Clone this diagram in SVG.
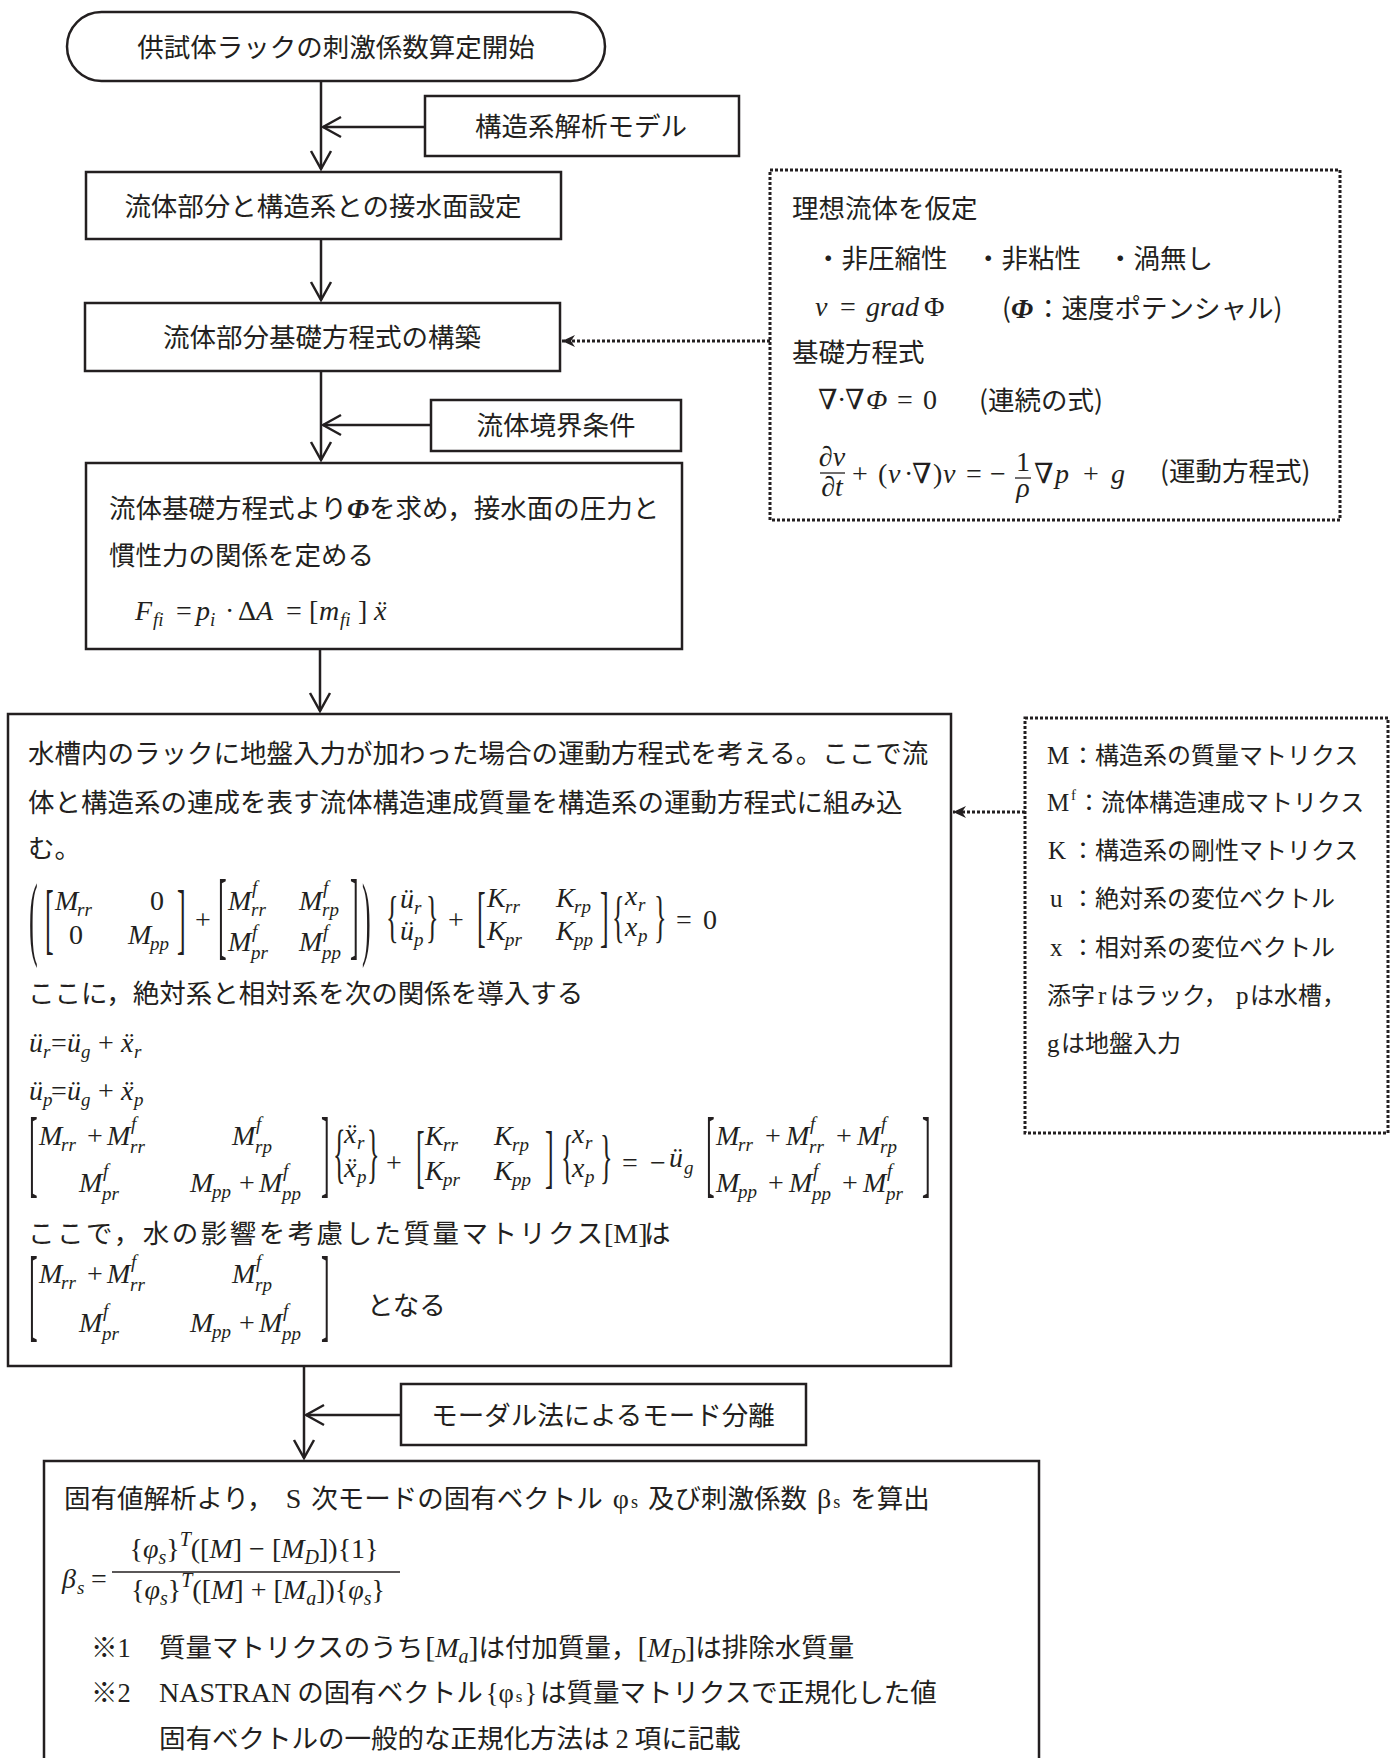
<svg xmlns="http://www.w3.org/2000/svg" width="1396" height="1758" viewBox="0 0 1396 1758">
<defs>
<style>
.jp{font-family:"Noto Sans CJK JP",sans-serif;font-size:26.5px;fill:#231f20}
.j24{font-size:24px}
.m{font-family:"Liberation Serif","DejaVu Serif",serif;font-style:italic;font-size:28px;fill:#231f20}
.mu{font-family:"Liberation Serif","DejaVu Serif",serif;font-style:normal;font-size:28px;fill:#231f20}
.s{font-family:"Liberation Serif","DejaVu Serif",serif;font-style:italic;font-size:19px;fill:#231f20}
.i{font-family:"Liberation Serif","DejaVu Serif",serif;font-style:italic}
.up{font-family:"Liberation Serif","DejaVu Serif",serif;font-style:normal}
.sb{font-family:"Liberation Serif","DejaVu Serif",serif;font-style:italic;font-size:20px}
.d{font-family:"Liberation Serif",serif;font-size:26px;fill:#231f20}
.box{fill:#fff;stroke:#231f20;stroke-width:2.5}
.dotbox{fill:none;stroke:#231f20;stroke-width:3;stroke-dasharray:3 2}
.conn{stroke:#231f20;stroke-width:2.5;fill:none}
.dconn{stroke:#231f20;stroke-width:3;stroke-dasharray:3 2;fill:none}
.bar{stroke:#231f20;stroke-width:1.3}
</style>
<marker id="chev" markerUnits="userSpaceOnUse" viewBox="-22 -12 24 24" markerWidth="24" markerHeight="24" refX="0" refY="0" orient="auto">
<path d="M-18,-10 L0,0 L-18,10" fill="none" stroke="#231f20" stroke-width="2.5"/>
</marker>
<marker id="tri" markerUnits="userSpaceOnUse" viewBox="-14 -7 15 14" markerWidth="15" markerHeight="14" refX="0" refY="0" orient="auto">
<path d="M0,0 L-13,-6 L-9,0 L-13,6 Z" fill="#231f20"/>
</marker>
</defs>
<rect width="1396" height="1758" fill="#fff"/>

<g id="connectors">
<path class="conn" d="M321,81 V169" marker-end="url(#chev)"/>
<path class="conn" d="M425,127 H323" marker-end="url(#chev)"/>
<path class="conn" d="M321,239 V300" marker-end="url(#chev)"/>
<path class="conn" d="M321,371 V460" marker-end="url(#chev)"/>
<path class="conn" d="M431,425 H323" marker-end="url(#chev)"/>
<path class="conn" d="M320,649 V711" marker-end="url(#chev)"/>
<path class="conn" d="M304,1366 V1458" marker-end="url(#chev)"/>
<path class="conn" d="M401,1415 H306" marker-end="url(#chev)"/>
<path class="dconn" d="M770,341 H562" marker-end="url(#tri)"/>
<path class="dconn" d="M1025,812 H953" marker-end="url(#tri)"/>
</g>

<g id="start">
<rect class="box" x="67" y="12" width="538" height="69" rx="34.5"/>
<text class="jp" x="336" y="57" text-anchor="middle">供試体ラックの刺激係数算定開始</text>
</g>

<g id="model">
<rect class="box" x="425" y="96" width="314" height="60"/>
<text class="jp" x="581" y="136" text-anchor="middle">構造系解析モデル</text>
</g>

<g id="surface">
<rect class="box" x="86" y="172" width="475" height="67"/>
<text class="jp" x="323" y="216" text-anchor="middle">流体部分と構造系との接水面設定</text>
</g>

<g id="fluid-eq">
<rect class="box" x="85" y="303" width="475" height="68"/>
<text class="jp" x="322" y="347" text-anchor="middle">流体部分基礎方程式の構築</text>
</g>

<g id="ideal-fluid">
<rect class="dotbox" x="770" y="170" width="570" height="350"/>
<text class="jp" x="792" y="218">理想流体を仮定</text>
<text class="jp" x="815" y="268">・非圧縮性</text>
<text class="jp" x="975" y="268">・非粘性</text>
<text class="jp" x="1107" y="268">・渦無し</text>
<text class="mu" y="316" font-size="29"><tspan class="i" x="815">v</tspan><tspan x="840">=</tspan><tspan class="i" x="866">grad</tspan><tspan x="924">Φ</tspan></text>
<text class="jp" y="318"><tspan x="1002">(</tspan><tspan class="i" x="1011" font-size="28" font-weight="bold">Φ</tspan><tspan x="1035">：速度ポテンシャル)</tspan></text>
<text class="jp" x="792" y="362">基礎方程式</text>
<text class="mu" y="409" font-size="29"><tspan x="818">∇</tspan><tspan x="837">·</tspan><tspan x="845">∇</tspan><tspan class="i" x="866">Φ</tspan><tspan x="897">=</tspan><tspan x="923">0</tspan></text>
<text class="jp" x="979" y="410">(連続の式)</text>
<text class="m" x="832" y="466" text-anchor="middle" font-size="24">∂v</text>
<line class="bar" x1="820" y1="473" x2="845" y2="473"/>
<text class="m" x="832" y="496" text-anchor="middle" font-size="24">∂t</text>
<text class="mu" y="483" font-size="29"><tspan x="852">+</tspan><tspan x="878">(</tspan><tspan class="i" x="888">v</tspan><tspan x="904">·</tspan><tspan x="912">∇</tspan><tspan x="933">)</tspan><tspan class="i" x="943">v</tspan><tspan x="966">=</tspan><tspan x="990">−</tspan></text>
<text class="mu" y="483" font-size="29"><tspan x="1034">∇</tspan><tspan class="i" x="1055">p</tspan><tspan x="1083">+</tspan><tspan class="i" x="1111">g</tspan></text>
<text class="mu" x="1023" y="471" text-anchor="middle" font-size="18">1</text>
<line class="bar" x1="1015" y1="478" x2="1031" y2="478"/>
<text class="m" x="1023" y="497" text-anchor="middle" font-size="19">ρ</text>
<text class="jp" x="1160" y="481">(運動方程式)</text>
</g>

<g id="boundary">
<rect class="box" x="431" y="400" width="250" height="51"/>
<text class="jp" x="556" y="435" text-anchor="middle">流体境界条件</text>
</g>

<g id="pressure">
<rect class="box" x="86" y="463" width="596" height="186"/>
<text class="jp" x="109" y="518">流体基礎方程式より<tspan class="i" font-size="28" font-weight="bold">Φ</tspan>を求め，接水面の圧力と</text>
<text class="jp" x="109" y="565">慣性力の関係を定める</text>
<text class="m" x="135" y="620">F</text><text class="s" x="153" y="626">fi</text>
<text class="mu" x="176" y="620">=</text>
<text class="m" x="196" y="620">p</text><text class="s" x="210" y="626">i</text>
<text class="mu" x="225" y="620">·</text>
<text class="mu" x="238" y="620">Δ</text><text class="m" x="256" y="620">A</text>
<text class="mu" x="286" y="620">=</text>
<text class="mu" x="309" y="620" font-size="31">[</text>
<text class="m" x="319" y="620">m</text><text class="s" x="340" y="626">fi</text>
<text class="mu" x="358" y="620" font-size="31">]</text>
<text class="m" x="374" y="620">x&#x308;</text>
</g>

<g id="motion-eq">
<rect class="box" x="8" y="714" width="943" height="652"/>
<text class="jp" x="28" y="763">水槽内のラックに地盤入力が加わった場合の運動方程式を考える。ここで流</text>
<text class="jp" x="28" y="812">体と構造系の連成を表す流体構造連成質量を構造系の運動方程式に組み込</text>
<text class="jp" x="28" y="858">む。</text>

<!-- equation 1 -->
<text class="d" transform="translate(29,948.1) scale(1,3.571)">(</text>
<text class="d" transform="translate(45,944.5) scale(1,3.036)">[</text>
<text class="m" x="55" y="910">M</text><text class="s" x="77" y="916">rr</text>
<text class="mu" x="150" y="910">0</text>
<text class="mu" x="69" y="944">0</text>
<text class="m" x="128" y="944">M</text><text class="s" x="150" y="950">pp</text>
<text class="d" transform="translate(177,944.5) scale(1,3.036)">]</text>
<text class="mu" x="195" y="929">+</text>
<text class="d" transform="translate(218,946.5) scale(1,3.705)">[</text>
<text class="m" x="228" y="910">M</text><text class="s" x="252" y="894">f</text><text class="s" x="251" y="916">rr</text>
<text class="m" x="299" y="910">M</text><text class="s" x="323" y="894">f</text><text class="s" x="322" y="916">rp</text>
<text class="m" x="228" y="951">M</text><text class="s" x="252" y="938">f</text><text class="s" x="251" y="959">pr</text>
<text class="m" x="299" y="951">M</text><text class="s" x="323" y="938">f</text><text class="s" x="322" y="959">pp</text>
<text class="d" transform="translate(350,946.5) scale(1,3.705)">]</text>
<text class="d" transform="translate(362,948.1) scale(1,3.571)">)</text>
<text class="d" transform="translate(386,936) scale(1,2.232)">{</text>
<text class="m" x="400" y="908">ü</text><text class="s" x="414" y="914">r</text>
<text class="m" x="400" y="940">ü</text><text class="s" x="414" y="946">p</text>
<text class="d" transform="translate(426,936) scale(1,2.232)">}</text>
<text class="mu" x="448" y="929">+</text>
<text class="d" transform="translate(477,939.4) scale(1,2.589)">[</text>
<text class="m" x="487" y="907">K</text><text class="s" x="505" y="913">rr</text>
<text class="m" x="556" y="907">K</text><text class="s" x="574" y="913">rp</text>
<text class="m" x="487" y="940">K</text><text class="s" x="505" y="946">pr</text>
<text class="m" x="556" y="940">K</text><text class="s" x="574" y="946">pp</text>
<text class="d" transform="translate(600,939.4) scale(1,2.589)">]</text>
<text class="d" transform="translate(612,936) scale(1,2.232)">{</text>
<text class="m" x="625" y="905">x</text><text class="s" x="638" y="911">r</text>
<text class="m" x="625" y="936">x</text><text class="s" x="638" y="942">p</text>
<text class="d" transform="translate(654,936) scale(1,2.232)">}</text>
<text class="mu" x="676" y="929">=</text>
<text class="mu" x="703" y="929">0</text>

<text class="jp" x="28" y="1003">ここに，絶対系と相対系を次の関係を導入する</text>

<text class="m" x="29" y="1052">ü</text><text class="s" x="43" y="1058">r</text><text class="mu" x="51" y="1052">=</text><text class="m" x="67" y="1052">ü</text><text class="s" x="81" y="1058">g</text><text class="mu" x="98" y="1052">+</text><text class="m" x="121" y="1052">x&#x308;</text><text class="s" x="134" y="1058">r</text>
<text class="m" x="29" y="1100">ü</text><text class="s" x="43" y="1106">p</text><text class="mu" x="51" y="1100">=</text><text class="m" x="67" y="1100">ü</text><text class="s" x="81" y="1106">g</text><text class="mu" x="98" y="1100">+</text><text class="m" x="121" y="1100">x&#x308;</text><text class="s" x="134" y="1106">p</text>

<!-- equation 2 -->
<text class="d" transform="translate(29,1185.3) scale(1,3.75)">[</text>
<text class="m" x="39" y="1145">M</text><text class="s" x="61" y="1151">rr</text>
<text class="mu" x="87" y="1145">+</text>
<text class="m" x="107" y="1145">M</text><text class="s" x="131" y="1130">f</text><text class="s" x="130" y="1153">rr</text>
<text class="m" x="232" y="1145">M</text><text class="s" x="256" y="1130">f</text><text class="s" x="255" y="1153">rp</text>
<text class="m" x="79" y="1192">M</text><text class="s" x="103" y="1177">f</text><text class="s" x="102" y="1200">pr</text>
<text class="m" x="190" y="1192">M</text><text class="s" x="212" y="1198">pp</text>
<text class="mu" x="239" y="1192">+</text>
<text class="m" x="259" y="1192">M</text><text class="s" x="283" y="1177">f</text><text class="s" x="282" y="1200">pp</text>
<text class="d" transform="translate(321,1185.3) scale(1,3.75)">]</text>
<text class="d" transform="translate(333,1174.9) scale(1,2.5)">{</text>
<text class="m" x="344" y="1143">x&#x308;</text><text class="s" x="357" y="1149">r</text>
<text class="m" x="344" y="1177">x&#x308;</text><text class="s" x="357" y="1183">p</text>
<text class="d" transform="translate(367,1174.9) scale(1,2.5)">}</text>
<text class="mu" x="386" y="1172">+</text>
<text class="d" transform="translate(416,1180) scale(1,2.679)">[</text>
<text class="m" x="425" y="1145">K</text><text class="s" x="443" y="1151">rr</text>
<text class="m" x="494" y="1145">K</text><text class="s" x="512" y="1151">rp</text>
<text class="m" x="425" y="1180">K</text><text class="s" x="443" y="1186">pr</text>
<text class="m" x="494" y="1180">K</text><text class="s" x="512" y="1186">pp</text>
<text class="d" transform="translate(545,1180) scale(1,2.679)">]</text>
<text class="d" transform="translate(561,1175.9) scale(1,2.277)">{</text>
<text class="m" x="572" y="1143">x</text><text class="s" x="585" y="1149">r</text>
<text class="m" x="572" y="1177">x</text><text class="s" x="585" y="1183">p</text>
<text class="d" transform="translate(600,1175.9) scale(1,2.277)">}</text>
<text class="mu" x="622" y="1172">=</text>
<text class="mu" x="650" y="1172">−</text>
<text class="m" x="669" y="1167">ü</text><text class="s" x="684" y="1174">g</text>
<text class="d" transform="translate(706,1185.3) scale(1,3.75)">[</text>
<text class="m" x="716" y="1145">M</text><text class="s" x="738" y="1151">rr</text>
<text class="mu" x="765" y="1145">+</text>
<text class="m" x="786" y="1145">M</text><text class="s" x="810" y="1130">f</text><text class="s" x="809" y="1153">rr</text>
<text class="mu" x="836" y="1145">+</text>
<text class="m" x="857" y="1145">M</text><text class="s" x="881" y="1130">f</text><text class="s" x="880" y="1153">rp</text>
<text class="m" x="716" y="1192">M</text><text class="s" x="738" y="1198">pp</text>
<text class="mu" x="768" y="1192">+</text>
<text class="m" x="789" y="1192">M</text><text class="s" x="813" y="1177">f</text><text class="s" x="812" y="1200">pp</text>
<text class="mu" x="842" y="1192">+</text>
<text class="m" x="863" y="1192">M</text><text class="s" x="887" y="1177">f</text><text class="s" x="886" y="1200">pr</text>
<text class="d" transform="translate(922,1185.3) scale(1,3.75)">]</text>

<text class="jp" y="1243"><tspan x="28" textLength="575" lengthAdjust="spacing">ここで，水の影響を考慮した質量マトリクス</tspan><tspan class="up" x="604" font-size="28">[M]</tspan><tspan x="644">は</tspan></text>

<!-- matrix 3 -->
<text class="d" transform="translate(29,1328.1) scale(1,4.018)">[</text>
<text class="m" x="39" y="1283">M</text><text class="s" x="61" y="1289">rr</text>
<text class="mu" x="87" y="1283">+</text>
<text class="m" x="107" y="1283">M</text><text class="s" x="131" y="1268">f</text><text class="s" x="130" y="1291">rr</text>
<text class="m" x="232" y="1283">M</text><text class="s" x="256" y="1268">f</text><text class="s" x="255" y="1291">rp</text>
<text class="m" x="79" y="1332">M</text><text class="s" x="103" y="1317">f</text><text class="s" x="102" y="1340">pr</text>
<text class="m" x="190" y="1332">M</text><text class="s" x="212" y="1338">pp</text>
<text class="mu" x="239" y="1332">+</text>
<text class="m" x="259" y="1332">M</text><text class="s" x="283" y="1317">f</text><text class="s" x="282" y="1340">pp</text>
<text class="d" transform="translate(321,1328.1) scale(1,4.018)">]</text>
<text class="jp" x="367" y="1315">となる</text>
</g>

<g id="legend">
<rect class="dotbox" x="1025" y="718" width="363" height="415"/>
<text class="jp j24" y="764"><tspan class="up" x="1047" font-size="25">M</tspan><tspan x="1071">：構造系の質量マトリクス</tspan></text>
<text class="jp j24" y="811"><tspan class="up" x="1047" font-size="25">M</tspan><tspan class="up" x="1071" y="800" font-size="15">f</tspan><tspan x="1077" y="811">：流体構造連成マトリクス</tspan></text>
<text class="jp j24" y="859"><tspan class="up" x="1048" font-size="25">K</tspan><tspan x="1071">：構造系の剛性マトリクス</tspan></text>
<text class="jp j24" y="907"><tspan class="up" x="1050" font-size="25">u</tspan><tspan x="1071">：絶対系の変位ベクトル</tspan></text>
<text class="jp j24" y="956"><tspan class="up" x="1050" font-size="25">x</tspan><tspan x="1071">：相対系の変位ベクトル</tspan></text>
<text class="jp j24" y="1004"><tspan x="1047">添字</tspan><tspan class="up" x="1098" font-size="25">r</tspan><tspan x="1110">はラック，</tspan><tspan class="up" x="1236" font-size="25">p</tspan><tspan x="1250">は水槽，</tspan></text>
<text class="jp j24" y="1052"><tspan class="up" x="1047" font-size="25">g</tspan><tspan x="1061">は地盤入力</tspan></text>
</g>

<g id="modal">
<rect class="box" x="401" y="1384" width="405" height="61"/>
<text class="jp" x="603" y="1425" text-anchor="middle">モーダル法によるモード分離</text>
</g>

<g id="beta">
<rect class="box" x="44" y="1461" width="995" height="330"/>
<text class="jp" x="64" y="1508">固有値解析より，<tspan class="up" dx="12" font-size="28">S</tspan><tspan dx="10">次モードの固有ベクトル</tspan><tspan class="up" dx="10" font-size="28">φ</tspan><tspan class="up" font-size="18" dx="2">s</tspan><tspan dx="10">及び刺激係数</tspan><tspan class="up" dx="10" font-size="28">β</tspan><tspan class="up" font-size="18" dx="2">s</tspan><tspan dx="10">を算出</tspan></text>
<text class="m" x="62" y="1588" font-size="29">β</text><text class="s" x="77" y="1594">s</text>
<text class="mu" x="91" y="1588" font-size="29">=</text>
<line class="bar" x1="112" y1="1572" x2="400" y2="1572"/>
<text class="mu" x="254" y="1558" text-anchor="middle" font-size="29">{<tspan class="i">φ</tspan><tspan class="sb" dy="6">s</tspan><tspan dy="-6">}</tspan><tspan class="sb" dy="-12">T</tspan><tspan dy="12">([</tspan><tspan class="i">M</tspan>] − [<tspan class="i">M</tspan><tspan class="sb" dy="6">D</tspan><tspan dy="-6">]){1}</tspan></text>
<text class="mu" x="258" y="1599" text-anchor="middle" font-size="29">{<tspan class="i">φ</tspan><tspan class="sb" dy="6">s</tspan><tspan dy="-6">}</tspan><tspan class="sb" dy="-12">T</tspan><tspan dy="12">([</tspan><tspan class="i">M</tspan>] + [<tspan class="i">M</tspan><tspan class="sb" dy="6">a</tspan><tspan dy="-6">]){</tspan><tspan class="i">φ</tspan><tspan class="sb" dy="6">s</tspan><tspan dy="-6">}</tspan></text>
<text class="jp" y="1657"><tspan x="91">※</tspan><tspan class="up">1</tspan><tspan x="159">質量マトリクスのうち</tspan><tspan class="up" dx="2" font-size="30">[</tspan><tspan class="i" font-size="28">M</tspan><tspan class="sb" dy="6">a</tspan><tspan class="up" dy="-6" font-size="30">]</tspan><tspan>は付加質量，</tspan><tspan class="up" font-size="30">[</tspan><tspan class="i" font-size="28">M</tspan><tspan class="sb" dy="6">D</tspan><tspan class="up" dy="-6" font-size="30">]</tspan><tspan>は排除水質量</tspan></text>
<text class="jp" y="1702"><tspan x="91">※</tspan><tspan class="up">2</tspan><tspan class="up" x="159" font-size="28">NASTRAN</tspan><tspan dx="6">の固有ベクトル</tspan><tspan class="up" dx="3">{φ</tspan><tspan class="up" font-size="17" dx="2">s</tspan><tspan class="up" dx="2">}</tspan><tspan dx="3">は質量マトリクスで正規化した値</tspan></text>
<text class="jp" y="1748"><tspan x="159">固有ベクトルの一般的な正規化方法は</tspan><tspan class="up" dx="6">2</tspan><tspan dx="6">項に記載</tspan></text>
</g>
</svg>
